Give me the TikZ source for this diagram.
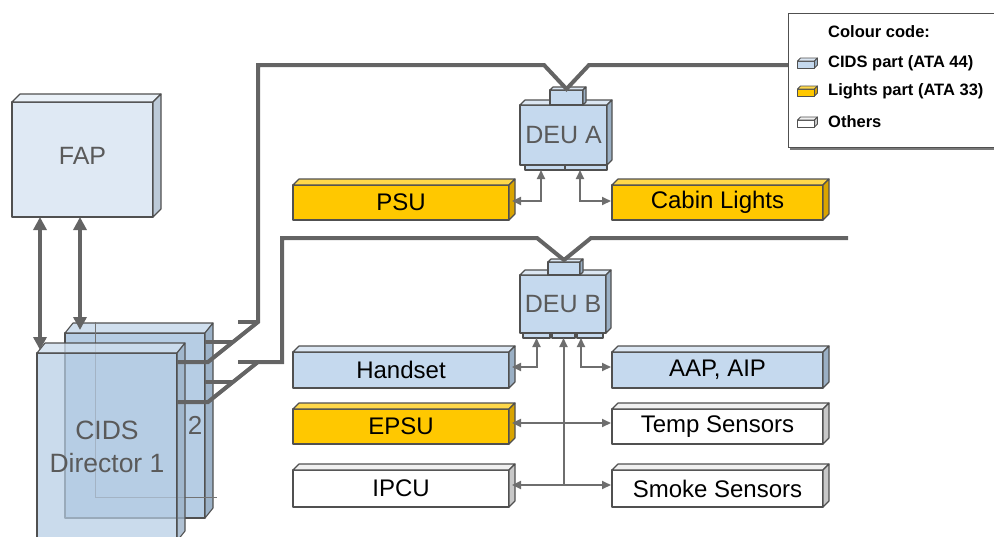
\documentclass[tikz,border=0pt]{standalone}
\usepackage{fontspec}
\setmainfont{Liberation Sans}
\usetikzlibrary{arrows.meta}
\definecolor{cidsF}{HTML}{C5D9EE}
\definecolor{cidsT}{HTML}{DCE7F3}
\definecolor{cidsS}{HTML}{9AAFC4}
\definecolor{fapF}{HTML}{DFE9F4}
\definecolor{fapT}{HTML}{EAF1F8}
\definecolor{fapS}{HTML}{BCCAD8}
\definecolor{lightF}{HTML}{FFC800}
\definecolor{lightT}{HTML}{FFD84A}
\definecolor{lightS}{HTML}{D9A400}
\definecolor{whiteT}{HTML}{F0F0F0}
\definecolor{whiteS}{HTML}{C8C8C8}
\definecolor{dirF}{HTML}{B6CDE4}
\definecolor{dirT}{HTML}{D0DFEE}
\definecolor{dirS}{HTML}{9CB2C8}
\definecolor{edgegray}{HTML}{505050}
\definecolor{labgray}{HTML}{5A5A5A}
\definecolor{busgray}{HTML}{646464}
\definecolor{arrgray}{HTML}{6E6E6E}
\definecolor{shadowgray}{HTML}{7A7A7A}
% 3D faces on an existing node: [opts]{name}{dx}{dy}{top colour}{side colour}
\newcommand\threed[6][]{%
  \draw[bl,fill=#5,#1] (#2.north west) -- ++(#3,-#4) -- ([shift={(#3,-#4)}]#2.north east) -- (#2.north east) -- cycle;
  \draw[bl,fill=#6,#1] (#2.north east) -- ([shift={(#3,-#4)}]#2.north east) -- ([shift={(#3,-#4)}]#2.south east) -- (#2.south east) -- cycle;
}
\begin{document}
\begin{tikzpicture}[x=1pt,y=-1pt,
  bl/.style={draw=edgegray, line width=1.1pt, line join=round},
  bx/.style={bl, outer sep=0pt, inner sep=0pt, font=\fontsize{24}{27}\selectfont, text=black},
  bxc/.style={bx, fill=cidsF},
  bxl/.style={bx, fill=lightF},
  bxo/.style={bx, fill=white},
  rowbox/.style={minimum width=216pt},
  rowboxr/.style={minimum width=211pt},
  bus/.style={draw=busgray, line width=4pt, line join=miter},
  sarr/.style={draw=arrgray, line width=2pt, -{Triangle[length=9pt,width=8pt]}},
  darr/.style={draw=arrgray, line width=2pt, {Triangle[length=9pt,width=8pt]}-{Triangle[length=9pt,width=8pt]}},
  barr/.style={draw=busgray, line width=4pt, {Triangle[length=13pt,width=13pt]}-{Triangle[length=13pt,width=13pt]}},
  legt/.style={inner sep=0pt, anchor=west, font=\bfseries\fontsize{16.5}{19}\selectfont},
  thinl/.style={draw=edgegray!80, line width=1pt}
]
\useasboundingbox (0,0) rectangle (994,536);
\clip (0,0) rectangle (994,536);

% ---------- FAP ----------
\node[bx, fill=fapF, minimum width=141pt, minimum height=115pt, text=labgray, font=\fontsize{25}{28}\selectfont] (fap) at (82.5,159.5) {\raisebox{7pt}{FAP}};
\threed{fap}{8}{8}{fapT}{fapS}

% ---------- CIDS Director 2 ----------
\node[bx, fill=dirF, minimum width=140pt, minimum height=185pt] (dir2) at (135,425.5) {};
\threed{dir2}{8}{10}{dirT}{dirS}
\draw[thinl] (95,322) -- (95,497) -- (217,497);

% ---------- CIDS Director 1 (transparent) ----------
\node[bx, fill=dirF, fill opacity=0.72, text opacity=1, minimum width=140pt, minimum height=188pt,
      font=\fontsize{26.5}{33}\selectfont, text=labgray, align=center] (dir1) at (107,447) {CIDS\\Director 1};
\threed[fill opacity=0.8]{dir1}{8}{10}{dirT}{dirS}
\node[font=\fontsize{26}{30}\selectfont, text=labgray, inner sep=0pt] (two) at (195,425) {2};

% ---------- DEU A ----------
\node[bxc, minimum width=87pt, minimum height=60pt, text=labgray, font=\fontsize{25}{28}\selectfont] (deua) at (563.5,135) {\raisebox{-4pt}{DEU A}};
\threed{deua}{5}{5}{cidsT}{cidsS}
\node[bxc, minimum width=33pt, minimum height=15pt] (dca) at (566.5,97.5) {};
\threed{dca}{3}{3}{cidsT}{cidsS}
\node[bxc, minimum width=40pt, minimum height=5pt] (ca1) at (545,167.5) {};
\node[bxc, minimum width=42pt, minimum height=5pt] (ca2) at (586,167.5) {};

% ---------- DEU B ----------
\node[bxc, minimum width=86pt, minimum height=58pt, text=labgray, font=\fontsize{25}{28}\selectfont] (deub) at (563,304) {\raisebox{-2pt}{DEU B}};
\threed{deub}{5}{5}{cidsT}{cidsS}
\node[bxc, minimum width=32pt, minimum height=13pt] (dcb) at (564,268.5) {};
\threed{dcb}{3}{3}{cidsT}{cidsS}
\node[bxc, minimum width=27pt, minimum height=5pt] (cb1) at (536.5,335.5) {};
\node[bxc, minimum width=23pt, minimum height=5pt] (cb2) at (563.5,335.5) {};
\node[bxc, minimum width=26pt, minimum height=5pt] (cb3) at (590,335.5) {};

% ---------- row boxes ----------
\node[bxl, rowbox, minimum height=35pt] (psu) at (401,202.5) {PSU};
\threed{psu}{6}{6}{lightT}{lightS}
\node[bxl, rowboxr, minimum height=35pt] (cab) at (717.5,202.5) {Cabin Lights};
\threed{cab}{6}{6}{lightT}{lightS}

\node[bxc, rowbox, minimum height=36pt] (hand) at (401,370) {Handset};
\threed{hand}{6}{6}{cidsT}{cidsS}
\node[bxc, rowboxr, minimum height=36pt] (aap) at (717.5,370) {AAP, AIP};
\threed{aap}{6}{6}{cidsT}{cidsS}

\node[bxl, rowbox, minimum height=35pt] (epsu) at (401,426.5) {EPSU};
\threed{epsu}{6}{6}{lightT}{lightS}
\node[bxo, rowboxr, minimum height=35pt] (temp) at (717.5,426.5) {Temp Sensors};
\threed{temp}{6}{6}{whiteT}{whiteS}

\node[bxo, rowbox, minimum height=37pt] (ipcu) at (401,488.5) {IPCU};
\threed{ipcu}{6}{6}{whiteT}{whiteS}
\node[bxo, rowboxr, minimum height=37pt] (smoke) at (717.5,488.5) {Smoke Sensors};
\threed{smoke}{6}{6}{whiteT}{whiteS}

% ---------- legend ----------
\fill[shadowgray] (790,16) rectangle (1000,150);
\node[draw=edgegray, line width=1pt, fill=white, minimum width=212pt, minimum height=134pt,
      anchor=north west, inner sep=0pt, outer sep=0pt] (legend) at (788,13) {};
\node[legt] (lhead) at (828,32) {Colour code:};
\node[legt] (l1) at (828,63) {CIDS part (ATA 44)};
\node[legt] (l2) at (828,91) {Lights part (ATA 33)};
\node[legt] (l3) at (828,122) {Others};
\node[bxc, minimum width=17pt, minimum height=7pt, line width=0.8pt] (i1) at (806,64.5) {};
\threed[line width=0.8pt]{i1}{3}{3}{cidsT}{cidsS}
\node[bxl, minimum width=17pt, minimum height=7pt, line width=0.8pt] (i2) at (806,92.5) {};
\threed[line width=0.8pt]{i2}{3}{3}{lightT}{lightS}
\node[bxo, minimum width=17pt, minimum height=7pt, line width=0.8pt] (i3) at (806,123.5) {};
\threed[line width=0.8pt]{i3}{3}{3}{whiteT}{whiteS}

% ---------- data buses ----------
\coordinate (bus2end) at (848,238);
\draw[bus] (dir1.east |- 0,362) -- (208,362) -- (258,322) -- (258,65) -- (544,65) -- ([yshift=1pt]dca.north) -- (589,65) -- (legend.west |- 0,65);
\draw[bus] (238,322) -- (258,322);
\draw[bus] (dir2.east |- 0,342) -- (233,342);
\draw[bus] (dir1.east |- 0,402) -- (208,402) -- (258,362) -- (282,362) -- (282,238) -- (537,238) -- ([yshift=2pt]dcb.north) -- (591,238) -- (bus2end);
\draw[bus] (238,362) -- (258,362);
\draw[bus] (dir2.east |- 0,382) -- (233,382);

% ---------- FAP <-> directors ----------
\coordinate (d1top) at (40,350);
\coordinate (d2top) at (80,330);
\draw[barr] (fap.south -| d1top) -- (d1top);
\draw[barr] (fap.south -| d2top) -- (d2top);

% ---------- DEU connections ----------
\draw[darr] ([xshift=3pt]psu.east |- 0,201) -| ([xshift=-4pt]ca1.south);
\draw[darr] ([xshift=-6pt]ca2.south) |- ([xshift=-1pt]cab.west |- 0,201);
\draw[darr] ([xshift=3pt]hand.east |- 0,367) -| (cb1.south);
\draw[darr] ([xshift=-9pt]cb3.south) |- ([xshift=-1pt]aap.west |- 0,367);
\coordinate (jn) at (cb2.south |- 0,485);
\draw[sarr] (jn) -- (cb2.south);
\draw[darr] ([xshift=3pt]epsu.east |- 0,423) -- ([xshift=-1pt]temp.west |- 0,423);
\draw[darr] ([xshift=3pt]ipcu.east |- 0,485) -- ([xshift=-1pt]smoke.west |- 0,485);
\end{tikzpicture}
\end{document}
